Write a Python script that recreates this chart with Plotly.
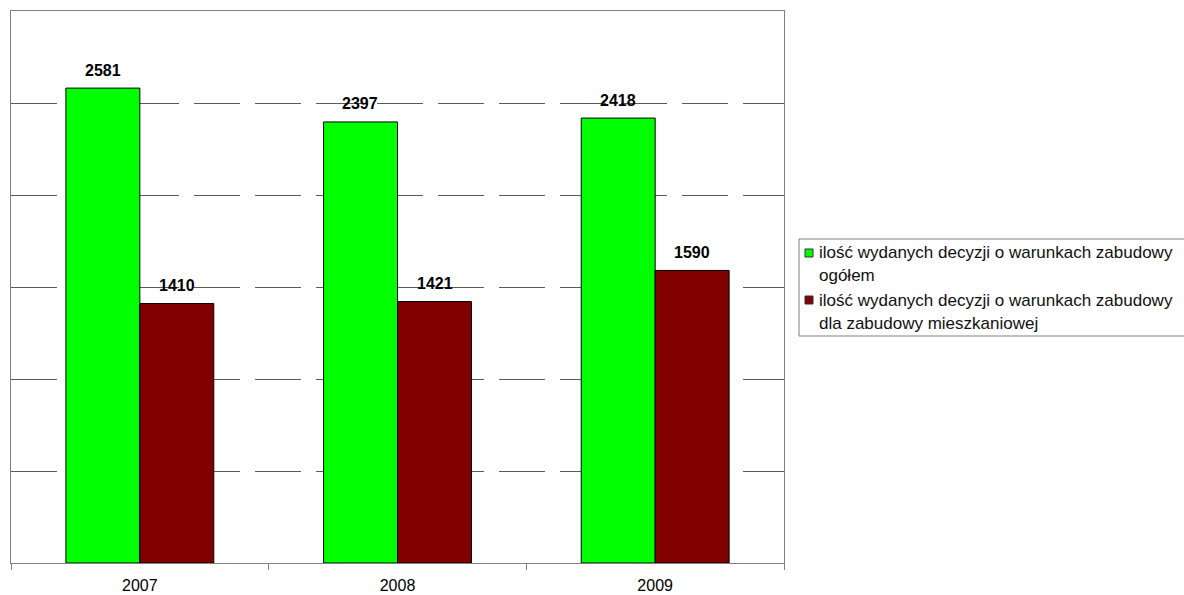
import plotly.graph_objects as go

# Data
years = ["2007", "2008", "2009"]
total_decisions = [2581, 2397, 2418]
residential_decisions = [1410, 1421, 1590]
series_names = [
    "ilość wydanych decyzji o warunkach zabudowy<br>ogółem",
    "ilość wydanych decyzji o warunkach zabudowy<br>dla zabudowy mieszkaniowej",
]
series_colors = ["#00FF00", "#800000"]

W, H = 1184, 595
ML, MR, MT, MB = 11, 400, 11, 32
PW, PH = W - ML - MR, H - MT - MB


def px_x(p):
    return (p - ML) / PW


def px_y(q):
    return (H - MB - q) / PH


FONT = "Liberation Sans, Arial, sans-serif"

fig = go.Figure()
for name, vals, col in zip(series_names, [total_decisions, residential_decisions], series_colors):
    fig.add_trace(go.Bar(
        x=years, y=vals, name=name,
        marker=dict(color=col, line=dict(color="#000000", width=1)),
        showlegend=False,
    ))

# Value labels above bars
annotations = []
offsets = [-0.1437, 0.1437]
for vals, off in zip([total_decisions, residential_decisions], offsets):
    for i, v in enumerate(vals):
        annotations.append(dict(
            x=i + off, y=v, xref="x", yref="y",
            text=f"<b>{v}</b>", showarrow=False,
            yanchor="middle", yshift=18,
            font=dict(family=FONT, size=16, color="#000000"),
        ))

# Legend box drawn in pixel-aligned paper coordinates
shapes = [dict(
    type="rect", xref="paper", yref="paper",
    x0=px_x(799), x1=px_x(1200), y0=px_y(239), y1=px_y(336),
    line=dict(color="#808080", width=1), fillcolor="#FFFFFF", layer="above",
)]
item_rows = [(253, 275), (300, 323)]
for name, col, (r1, r2) in zip(series_names, series_colors, item_rows):
    shapes.append(dict(
        type="rect", xref="paper", yref="paper",
        x0=px_x(805), x1=px_x(813), y0=px_y(r1 + 4), y1=px_y(r1 - 4),
        line=dict(color="#333333", width=1), fillcolor=col, layer="above",
    ))
    for line_text, row in zip(name.split("<br>"), (r1, r2)):
        annotations.append(dict(
            x=px_x(817), y=px_y(row), xref="paper", yref="paper",
            text=line_text, showarrow=False,
            xanchor="left", yanchor="middle",
            font=dict(family=FONT, size=17, color="#111111"),
        ))

fig.update_layout(
    width=W, height=H,
    margin=dict(l=ML, r=MR, t=MT, b=MB),
    paper_bgcolor="#FFFFFF", plot_bgcolor="#FFFFFF",
    barmode="group", bargap=0.426, bargroupgap=0,
    showlegend=False,
    annotations=annotations,
    shapes=shapes,
    font=dict(family=FONT, size=16, color="#000000"),
)
fig.update_xaxes(
    type="category", tickson="boundaries", automargin=False,
    ticks="outside", ticklen=6, tickcolor="#808080",
    ticklabelstandoff=8,
    showline=True, linecolor="#808080", linewidth=1, mirror=True,
    showgrid=False,
    tickfont=dict(family=FONT, size=16, color="#000000"),
)
fig.update_yaxes(
    range=[0, 3000], dtick=500, automargin=False,
    showticklabels=False, ticks="",
    showline=True, linecolor="#808080", linewidth=1, mirror=True,
    showgrid=True, gridcolor="#5a5a5a", gridwidth=1, griddash="46px,15px",
    zeroline=False,
)

fig.write_html("out.html")
